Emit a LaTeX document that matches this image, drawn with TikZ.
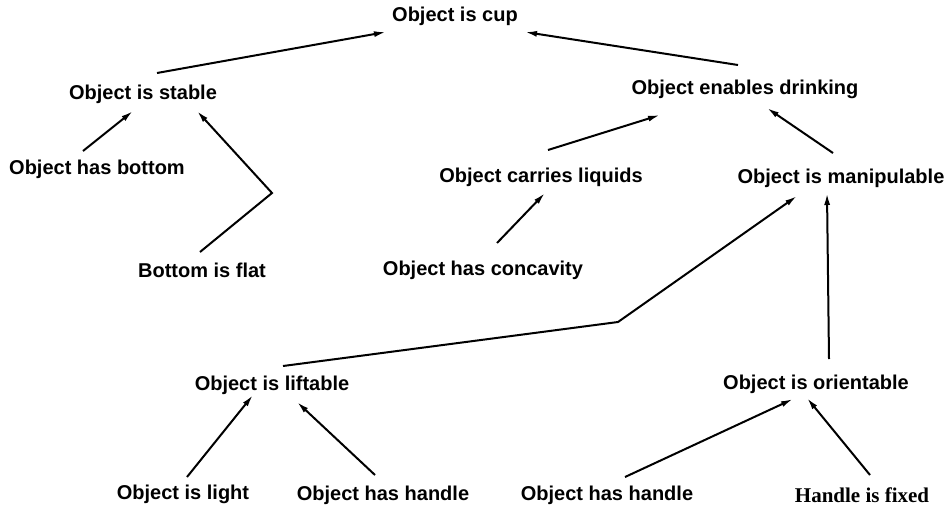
\documentclass[tikz,border=0pt]{standalone}
\usepackage{fontspec}
\setmainfont{Liberation Sans}
\newfontfamily\fixedfont{Liberation Serif}
\usetikzlibrary{arrows.meta,calc}

\begin{document}
\begin{tikzpicture}[x=1pt, y=-1pt,
    goal/.style={inner sep=0pt, font=\fontsize{20}{24}\selectfont\bfseries},
    leaf/.style={inner sep=0pt, font=\fontsize{21}{24}\selectfont\fixedfont\bfseries},
    link/.style={line width=2pt, -{Latex[length=12pt,width=6pt]}}]
            \useasboundingbox (0,0) rectangle (949,509);

            % top level
            \node[goal] (cup) at (455,16) {Object is cup};
            \node[goal] (stable) at (143,94) {Object is stable};
            \node[goal] (drinking) at (745,89) {Object enables drinking};

            % second level
            \node[goal] (bottom) at (97,169) {Object has bottom};
            \node[goal] (carries) at (541,177) {Object carries liquids};
            \node[goal] (manip) at (841,178) {Object is manipulable};
            \node[goal] (flat) at (202,270) {Bottom is flat};
            \node[goal] (concav) at (483,270) {Object has concavity};

            % third level
            \node[goal] (lift) at (272,385) {Object is liftable};
            \node[goal] (orient) at (816,384) {Object is orientable};
            \node[goal] (light) at (183,494) {Object is light};
            \node[goal] (handleL) at (383,495) {Object has handle};
            \node[goal] (handleR) at (607,495) {Object has handle};
            \node[leaf] (fixed) at (862,495) {Handle is fixed};

            \coordinate (flatbend) at (272,193);
            \coordinate (liftbend) at (618,322);

            \draw[link] ($(stable)+(14,-21)$) -- ($(cup)+(-69,16)$);
            \draw[link] ($(drinking)+(-7,-24)$) -- ($(cup)+(70,16)$);
            \draw[link] ($(bottom)+(-14,-18)$) -- ($(stable)+(-10,17)$);
            \draw[link] ($(flat)+(-2,-18)$) -- (flatbend) -- ($(stable)+(54,17)$);
            \draw[link] ($(carries)+(7,-27)$) -- ($(drinking)+(-85,26)$);
            \draw[link] ($(manip)+(-8,-25)$) -- ($(drinking)+(22,19)$);
            \draw[link] ($(concav)+(14,-27)$) -- ($(carries)+(4,16)$);
            \draw[link] ($(lift)+(11,-19)$) -- (liftbend) -- ($(manip)+(-44,18)$);
            \draw[link] ($(orient)+(13,-25)$) -- ($(manip)+(-14,15)$);
            \draw[link] ($(light)+(4,-17)$) -- ($(lift)+(-19,10)$);
            \draw[link] ($(handleL)+(-8,-20)$) -- ($(lift)+(25,17)$);
            \draw[link] ($(handleR)+(18,-18)$) -- ($(orient)+(-23,15)$);
            \draw[link] ($(fixed)+(8,-20)$) -- ($(orient)+(-9,14)$);
        \end{tikzpicture}
\end{document}
